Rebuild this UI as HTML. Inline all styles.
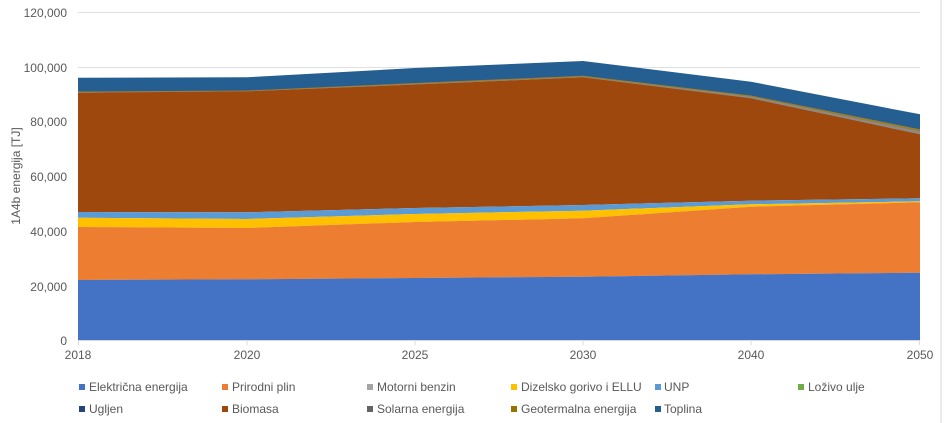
<!DOCTYPE html>
<html><head><meta charset="utf-8"><style>
body{margin:0;background:#fff;}
svg{display:block;font-family:"Liberation Sans",sans-serif;}
</style></head><body>
<svg width="945" height="423" viewBox="0 0 945 423" xmlns="http://www.w3.org/2000/svg">
<rect x="0" y="0" width="945" height="423" fill="#fff"/>
<line x1="941" y1="0" x2="941" y2="423" stroke="#d9d9d9"/>
<g stroke="#e0e0e0" stroke-width="1">
<line x1="78" x2="920" y1="12.5" y2="12.5"/>
<line x1="78" x2="920" y1="67.5" y2="67.5"/>
<line x1="78" x2="920" y1="121.5" y2="121.5"/>
<line x1="78" x2="920" y1="176.5" y2="176.5"/>
<line x1="78" x2="920" y1="231.5" y2="231.5"/>
<line x1="78" x2="920" y1="286.5" y2="286.5"/>
</g>
<polygon fill="#255e91" points="78,77.7 247,77.3 415,68 583,61 751,81.7 920,114.3 920,130 751,97 583,76 415,84 247,91 78,92.5"/>
<polygon fill="#9e7d2a" points="78,91.5 247,90.5 415,83 583,75.7 751,95.5 920,129.3 920,134.3 751,98.3 583,77.3 415,84.5 247,91.3 78,92.7"/>
<polygon fill="#8a8a8a" points="78,92.3 247,91 415,84 583,76.8 751,96.8 920,131.5 920,134.3 751,98.3 583,77.3 415,84.5 247,91.3 78,92.7"/>
<polygon fill="#9e480e" points="78,92.7 247,91.3 415,84.5 583,77.3 751,98.3 920,134.3 920,198.3 751,200.7 583,205 415,208 247,212.3 78,212"/>
<polygon fill="#5b9bd5" points="78,212 247,212.3 415,208 583,205 751,200.7 920,198.3 920,201.3 751,204.3 583,210.7 415,214 247,219 78,217.7"/>
<polygon fill="#ffc000" points="78,217.7 247,219 415,214 583,210.7 751,204.3 920,201.3 920,202.3 751,206.7 583,218.3 415,222 247,228 78,227"/>
<polygon fill="#ed7d31" points="78,227 247,228 415,222 583,218.3 751,206.7 920,202.3 920,272.7 751,274.3 583,276.7 415,278 247,279.3 78,280"/>
<polygon fill="#4472c4" points="78,280 247,279.3 415,278 583,276.7 751,274.3 920,272.7 920,340.5 78,340.5"/>
<line x1="78" x2="920" y1="340.5" y2="340.5" stroke="#d9d9d9"/>
<g stroke="#d9d9d9"><line x1="78.5" x2="78.5" y1="341" y2="345"/><line x1="247" x2="247" y1="341" y2="345"/><line x1="415" x2="415" y1="341" y2="345"/><line x1="583" x2="583" y1="341" y2="345"/><line x1="751" x2="751" y1="341" y2="345"/><line x1="919.5" x2="919.5" y1="341" y2="345"/></g>
<g fill="#595959" font-size="12" text-anchor="end">
<text x="67" y="17">120,000</text><text x="67" y="72">100,000</text><text x="67" y="126">80,000</text><text x="67" y="181">60,000</text><text x="67" y="236">40,000</text><text x="67" y="291">20,000</text><text x="67" y="345">0</text>
</g>
<g fill="#595959" font-size="12" text-anchor="middle">
<text x="78" y="359">2018</text><text x="247" y="359">2020</text><text x="415" y="359">2025</text><text x="583" y="359">2030</text><text x="751" y="359">2040</text><text x="920" y="359">2050</text>
</g>
<text transform="translate(20,176) rotate(-90)" fill="#595959" font-size="12" text-anchor="middle">1A4b energija [TJ]</text>
<g font-size="12" fill="#595959">
<rect x="79" y="384" width="6" height="6" fill="#4472c4"/><text x="89" y="391">Električna energija</text>
<rect x="222" y="384" width="6" height="6" fill="#ed7d31"/><text x="232" y="391">Prirodni plin</text>
<rect x="367" y="384" width="6" height="6" fill="#a5a5a5"/><text x="377" y="391">Motorni benzin</text>
<rect x="511" y="384" width="6" height="6" fill="#ffc000"/><text x="521" y="391">Dizelsko gorivo i ELLU</text>
<rect x="655" y="384" width="6" height="6" fill="#5b9bd5"/><text x="664" y="391">UNP</text>
<rect x="798" y="384" width="6" height="6" fill="#70ad47"/><text x="808" y="391">Loživo ulje</text>
<rect x="79" y="406" width="6" height="6" fill="#264478"/><text x="89" y="413">Ugljen</text>
<rect x="222" y="406" width="6" height="6" fill="#9e480e"/><text x="232" y="413">Biomasa</text>
<rect x="367" y="406" width="6" height="6" fill="#636363"/><text x="377" y="413">Solarna energija</text>
<rect x="511" y="406" width="6" height="6" fill="#997300"/><text x="521" y="413">Geotermalna energija</text>
<rect x="655" y="406" width="6" height="6" fill="#255e91"/><text x="664" y="413">Toplina</text>
</g>
</svg>
</body></html>
